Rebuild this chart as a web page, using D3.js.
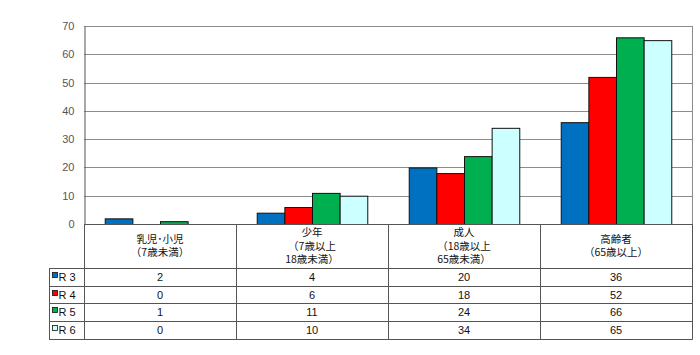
<!DOCTYPE html>
<html><head><meta charset="utf-8">
<script src="https://cdn.jsdelivr.net/npm/d3@7"></script>
<style>
html,body{margin:0;padding:0;background:#fff;}
svg{display:block;font-family:"Noto Sans CJK JP","DejaVu Sans",sans-serif;}
</style></head>
<body><svg id="c" width="700" height="355"></svg>
<script>
const categories = [
  ["乳児･小児","（7歳未満）"],
  ["少年","（7歳以上","18歳未満）"],
  ["成人","（18歳以上","65歳未満）"],
  ["高齢者","（65歳以上）"]
];
const seriesNames = ["R 3","R 4","R 5","R 6"];
const colors = ["#0070C0","#FF0000","#00B050","#CCFFFF"];
const R3 = [2,4,20,36];
const R4 = [0,6,18,52];
const R5 = [1,11,24,66];
const R6 = [0,10,34,65];
const series = [R3,R4,R5,R6];
const yTicks = [0,10,20,30,40,50,60,70];

const svg = d3.select("#c");
const L = 84, R = 692, T = 26, B = 224;
const tableLeft = 49;
const headerBottom = 268;
const rowH = 17.7;

const x = d3.scaleBand().domain(d3.range(categories.length)).range([L,R]).paddingInner(0).paddingOuter(0);
const y = d3.scaleLinear().domain([0,70]).range([B,T]);
const bw = x.bandwidth()/5.5;
const xs = d3.scaleBand().domain(d3.range(series.length)).range([0.75*bw, 4.75*bw]).padding(0);

// gridlines
svg.append("g").selectAll("line").data(yTicks.filter(d=>d>0)).join("line")
  .attr("x1",L).attr("x2",R).attr("y1",d=>Math.round(y(d))+0.5).attr("y2",d=>Math.round(y(d))+0.5)
  .attr("stroke","#8c8c8c").attr("stroke-width",1);
// right border
svg.append("line").attr("x1",R+0.5).attr("x2",R+0.5).attr("y1",T).attr("y2",B).attr("stroke","#8c8c8c");

// y axis
const yAxis = d3.axisLeft(y).tickValues(yTicks).tickSize(0).tickPadding(10);
const ga = svg.append("g").attr("transform",`translate(${L+0.5},0)`).call(yAxis);
ga.select(".domain").attr("stroke","#555");
ga.selectAll("text").attr("fill","#555").style("font-size","11px").style("font-family","'Liberation Sans',Arial,sans-serif");

// bars
series.forEach((vals,si)=>{
  svg.append("g").selectAll("rect").data(vals).join("rect")
    .attr("x",(d,i)=>x(i)+xs(si)+0.5)
    .attr("width",xs.bandwidth())
    .attr("y",d=>y(d)+0.5)
    .attr("height",d=>Math.max(0,y(0)-y(d)))
    .attr("fill",colors[si])
    .attr("stroke","#111").attr("stroke-width",1)
    .attr("display",d=>d>0?null:"none");
});

// table
const tg = svg.append("g");
const tableBottom = headerBottom + rowH*4;
const lineCol = "#555";
tg.append("line").attr("x1",L).attr("x2",R+0.5).attr("y1",B+0.5).attr("y2",B+0.5).attr("stroke",lineCol);
d3.range(5).forEach(i=>{
  const yy = Math.round(headerBottom + i*rowH)+0.5;
  tg.append("line").attr("x1",tableLeft).attr("x2",R+0.5).attr("y1",yy).attr("y2",yy).attr("stroke",lineCol);
});
[L, ...d3.range(1,categories.length).map(i=>x(i)), R].forEach((xx)=>{
  const xr = Math.round(xx)+0.5;
  tg.append("line").attr("x1",xr).attr("x2",xr).attr("y1",B).attr("y2",Math.round(tableBottom)+0.5).attr("stroke",lineCol);
});
tg.append("line").attr("x1",tableLeft+0.5).attr("x2",tableLeft+0.5).attr("y1",headerBottom).attr("y2",Math.round(tableBottom)+0.5).attr("stroke",lineCol);

// header text
categories.forEach((lines,i)=>{
  const cx = x(i)+x.bandwidth()/2;
  const lh = 13.5;
  const cy = (B+headerBottom)/2;
  const start = cy - (lines.length-1)*lh/2;
  lines.forEach((t,j)=>{
    tg.append("text").attr("x",cx).attr("y",start+j*lh).attr("dy","0.35em")
      .attr("text-anchor","middle").attr("fill","#111").style("font-size","10.5px").text(t);
  });
});
// rows
series.forEach((vals,si)=>{
  const cy = headerBottom + si*rowH + rowH/2;
  tg.append("rect").attr("x",52.5).attr("y",Math.round(cy)-4.5).attr("width",5).attr("height",5)
    .attr("fill",colors[si]).attr("stroke","#111").attr("stroke-width",0.8);
  tg.append("text").attr("x",58.5).attr("y",cy).attr("dy","0.36em").attr("fill","#111")
    .style("font-size","11px").style("font-family","'Liberation Sans',Arial,sans-serif").attr("xml:space","preserve").text(seriesNames[si]);
  vals.forEach((v,i)=>{
    tg.append("text").attr("x",x(i)+x.bandwidth()/2).attr("y",cy).attr("dy","0.36em")
      .attr("text-anchor","middle").attr("fill","#111").style("font-size","11px")
      .style("font-family","'Liberation Sans',Arial,sans-serif").text(v);
  });
});
</script></body></html>
